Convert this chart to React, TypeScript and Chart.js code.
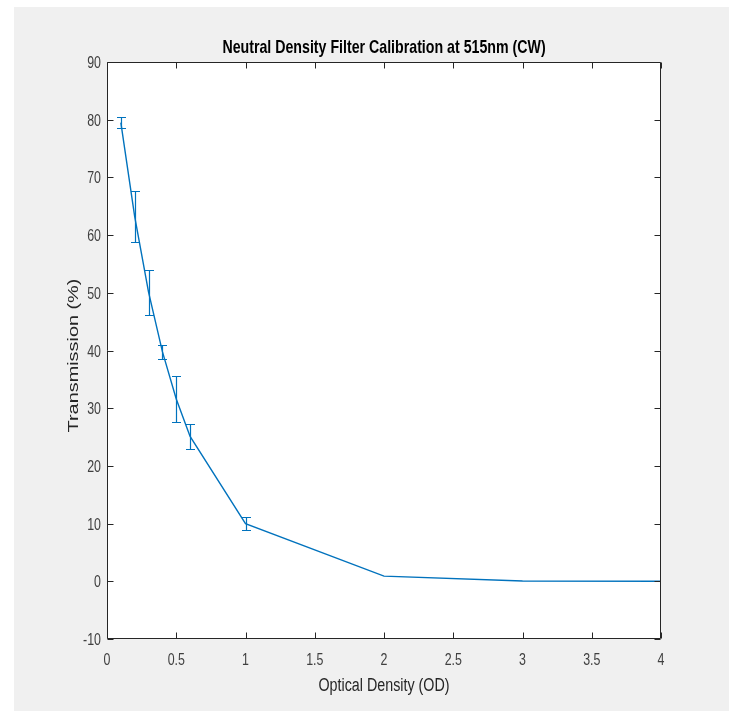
import React, { useEffect, useRef } from "react";
import { Chart, registerables } from "chart.js";

Chart.register(...registerables);

// ---- Data ----
const opticalDensity = [0.1, 0.2, 0.3, 0.4, 0.5, 0.6, 1, 2, 3, 4];
const transmission = [79.5, 63.2, 50.1, 39.8, 31.6, 25.1, 10.0, 0.9, 0.05, 0.0];
const transmissionError = [1.0, 4.4, 3.9, 1.2, 4.0, 2.2, 1.1, 0, 0, 0];

const chartTitle = "Neutral Density Filter Calibration at 515nm (CW)";
const xAxisTitle = "Optical Density (OD)";
const yAxisTitle = "Transmission (%)";

const xRange = { min: 0, max: 4, step: 0.5 };
const yRange = { min: -10, max: 90, step: 10 };

// ---- Styles ----
const LINE_COLOR = "#0072BD";
const AXIS_COLOR = "#262626";
const TICK_TEXT = "#404040";
const FONT = '"Liberation Sans", Arial, Helvetica, sans-serif';
const STRETCH = 1.27; // the reference text is stretched vertically

function drawText(
  ctx: CanvasRenderingContext2D,
  text: string,
  x: number,
  y: number,
  font: string,
  color: string,
  align: CanvasTextAlign,
  sx: number,
  sy: number,
  rotate = 0
) {
  ctx.save();
  ctx.translate(x, y);
  if (rotate) ctx.rotate(rotate);
  ctx.scale(sx, sy);
  ctx.font = font;
  ctx.fillStyle = color;
  ctx.textAlign = align;
  ctx.textBaseline = "alphabetic";
  ctx.fillText(text, 0, 0);
  ctx.restore();
}

const decorPlugin = {
  id: "decor",
  beforeDraw(chart: any) {
    const { ctx, chartArea: a, width, height } = chart;
    ctx.save();
    ctx.fillStyle = "#ffffff";
    ctx.fillRect(0, 0, width, height);
    ctx.fillStyle = "#f0f0f0";
    ctx.fillRect(14, 7, width - 16, height - 7);
    ctx.fillStyle = "#ffffff";
    ctx.fillRect(a.left, a.top, a.right - a.left, a.bottom - a.top);
    ctx.restore();
  },
  afterDatasetsDraw(chart: any) {
    const { ctx } = chart;
    const xs = chart.scales.x;
    const ys = chart.scales.y;
    ctx.save();
    ctx.strokeStyle = LINE_COLOR;
    ctx.lineWidth = 1.2;
    opticalDensity.forEach((x, i) => {
      const e = transmissionError[i];
      if (e <= 0) return;
      const px = Math.round(xs.getPixelForValue(x)) + 0.5;
      const top = Math.round(ys.getPixelForValue(transmission[i] + e)) + 0.5;
      const bot = Math.round(ys.getPixelForValue(transmission[i] - e)) + 0.5;
      const cap = 4.5;
      ctx.beginPath();
      ctx.moveTo(px, top);
      ctx.lineTo(px, bot);
      ctx.moveTo(px - cap, top);
      ctx.lineTo(px + cap, top);
      ctx.moveTo(px - cap, bot);
      ctx.lineTo(px + cap, bot);
      ctx.stroke();
    });
    ctx.restore();
  },
  afterDraw(chart: any) {
    const { ctx, chartArea: a } = chart;
    const xs = chart.scales.x;
    const ys = chart.scales.y;
    ctx.save();
    ctx.strokeStyle = AXIS_COLOR;
    ctx.lineWidth = 1;
    const L = a.left + 0.5;
    const R = a.right - 0.5;
    const T = a.top + 0.5;
    const B = a.bottom - 0.5;
    ctx.beginPath();
    ctx.rect(L, T, R - L, B - T);
    ctx.stroke();
    const tl = 6;
    ctx.beginPath();
    xs.ticks.forEach((t: any) => {
      const px = Math.round(xs.getPixelForValue(t.value)) + 0.5;
      ctx.moveTo(px, B);
      ctx.lineTo(px, B - tl);
      ctx.moveTo(px, T);
      ctx.lineTo(px, T + tl);
    });
    ys.ticks.forEach((t: any) => {
      const py = Math.round(ys.getPixelForValue(t.value)) + 0.5;
      ctx.moveTo(L, py);
      ctx.lineTo(L + tl, py);
      ctx.moveTo(R, py);
      ctx.lineTo(R - tl, py);
    });
    ctx.stroke();
    ctx.restore();

    // tick labels from the chart's scales
    const tickFont = `12.4px ${FONT}`;
    xs.ticks.forEach((t: any) => {
      const px = xs.getPixelForValue(t.value);
      drawText(ctx, String(t.value), px, a.bottom + 26, tickFont, TICK_TEXT, "center", 1, STRETCH);
    });
    ys.ticks.forEach((t: any) => {
      const py = ys.getPixelForValue(t.value);
      drawText(ctx, String(t.value), a.left - 6, py + 6, tickFont, TICK_TEXT, "right", 1, STRETCH);
    });

    const cx = (a.left + a.right) / 2;
    drawText(ctx, chartTitle, cx, 53, `bold 14.2px ${FONT}`, "#000000", "center", 1, STRETCH);
    drawText(ctx, xAxisTitle, cx, 690.5, `14.3px ${FONT}`, AXIS_COLOR, "center", 1, STRETCH);
    drawText(ctx, yAxisTitle, 77.5, 355.5, `14.5px ${FONT}`, AXIS_COLOR, "center", 1.37, 1, -Math.PI / 2);
  },
};

export default function App() {
  const ref = useRef<HTMLCanvasElement | null>(null);
  useEffect(() => {
    if (!ref.current) return;
    const chart = new Chart(ref.current, {
      type: "line",
      data: {
        datasets: [
          {
            data: opticalDensity.map((x, i) => ({ x, y: transmission[i] })),
            borderColor: LINE_COLOR,
            borderWidth: 1.4,
            pointRadius: 0,
            tension: 0,
            fill: false,
          },
        ],
      },
      options: {
        responsive: false,
        animation: false,
        layout: { padding: { top: 62, right: 70, left: 0, bottom: 0 } },
        plugins: {
          legend: { display: false },
          title: { display: false },
          tooltip: { enabled: false },
        },
        scales: {
          x: {
            type: "linear",
            min: xRange.min,
            max: xRange.max,
            ticks: { stepSize: xRange.step, display: false },
            grid: { display: false, drawTicks: false },
            border: { display: false },
            afterFit: (s: any) => {
              s.height = 72;
            },
          },
          y: {
            type: "linear",
            min: yRange.min,
            max: yRange.max,
            ticks: { stepSize: yRange.step, display: false },
            grid: { display: false, drawTicks: false },
            border: { display: false },
            afterFit: (s: any) => {
              s.width = 107;
            },
          },
        },
      } as any,
      plugins: [decorPlugin],
    });
    return () => chart.destroy();
  }, []);
  return (
    <div style={{ position: "absolute", left: 0, top: 0, width: 731, height: 711 }}>
      <canvas ref={ref} width={731} height={711} style={{ display: "block" }} />
    </div>
  );
}
